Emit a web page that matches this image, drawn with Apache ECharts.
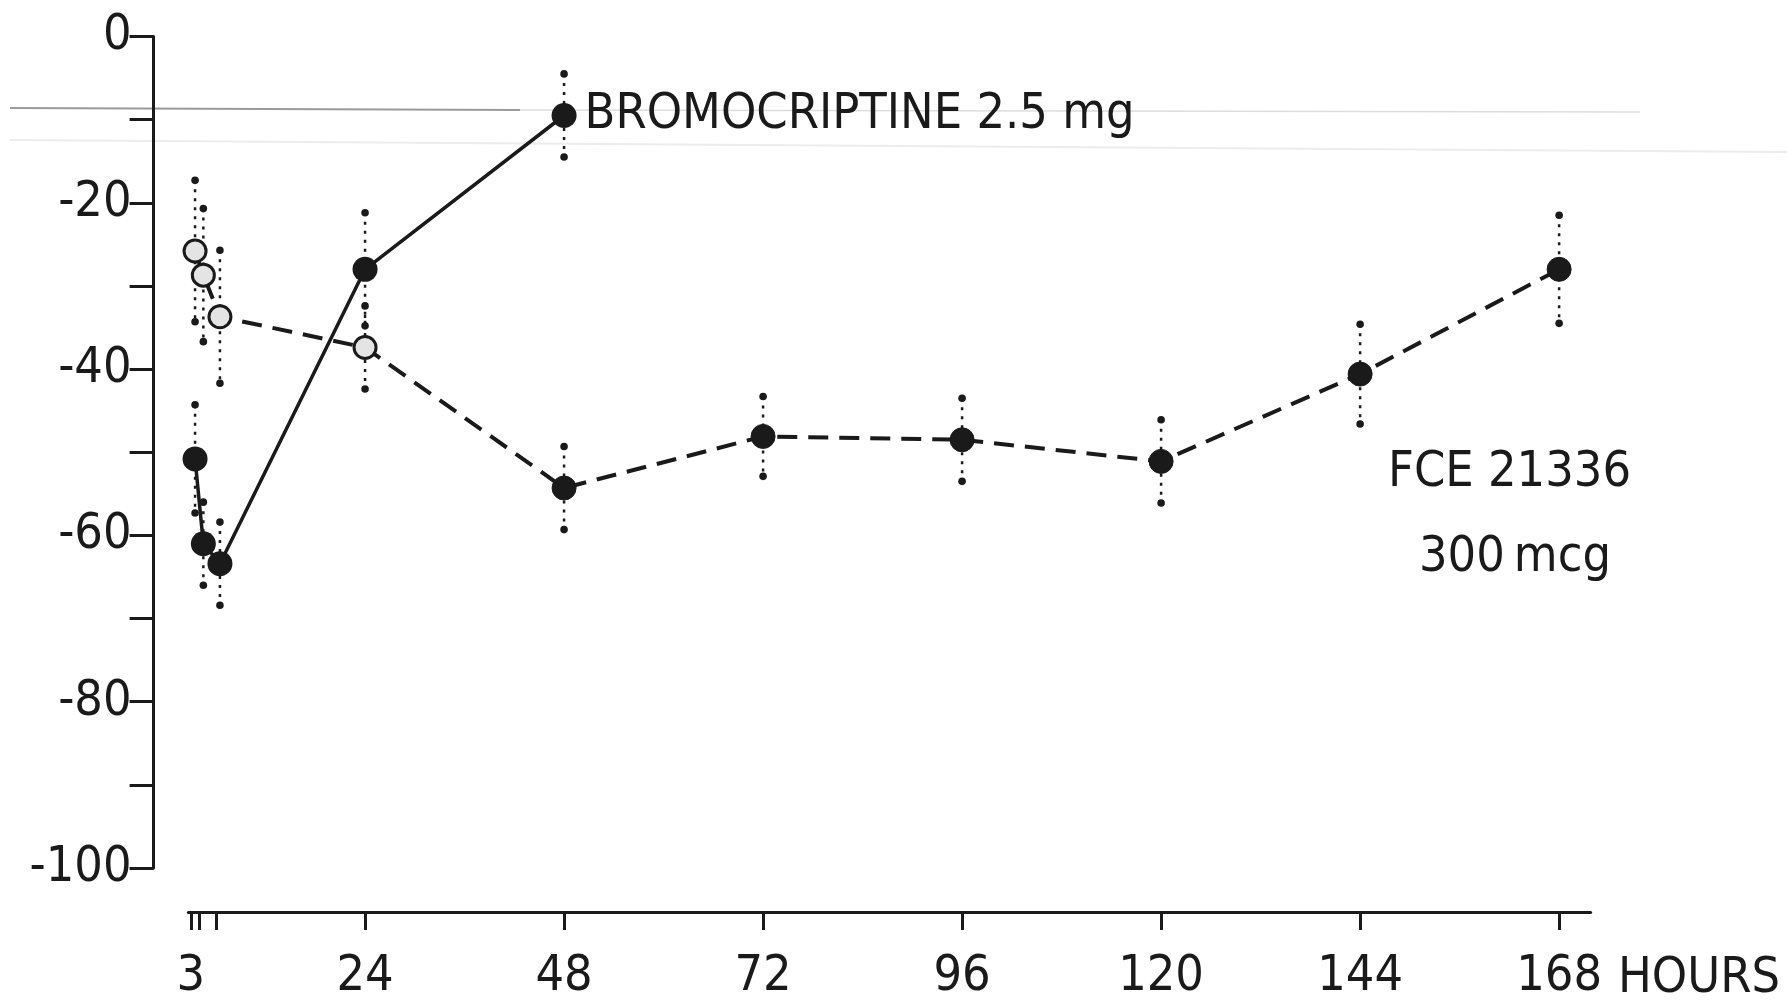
<!DOCTYPE html>
<html>
<head>
<meta charset="utf-8">
<script src="https://cdn.jsdelivr.net/npm/echarts@6/dist/echarts.min.js"></script>
<style>
  html, body { margin: 0; padding: 0; background: #fff; }
  #chart { width: 1787px; height: 1002px; }
</style>
</head>
<body>
<div id="chart"></div>
<script>
// Time points (hours after dosing)
var bromoHours = [3.5, 4.5, 6.5, 24, 48];
var fceHours = [3.5, 4.5, 6.5, 24, 48, 72, 96, 120, 144, 168];

// Mean percent change and error half-widths
var bromoValues = [-50.8, -61.0, -63.4, -28.0, -9.5];
var bromoErr = [6.5, 5.0, 5.0, 6.8, 5.0];
var fceValues = [-25.8, -28.7, -33.7, -37.4, -54.3, -48.1, -48.5, -51.1, -40.6, -28.0];
var fceErr = [8.5, 8.0, 8.0, 5.0, 5.0, 4.8, 5.0, 5.0, 6.0, 6.5];
// Open markers for the early FCE readings, filled afterwards
var fceOpen = [true, true, true, true, false, false, false, false, false, false];

var xTickValues = [3, 4, 6, 24, 48, 72, 96, 120, 144, 168];
var xLabelValues = [3, 24, 48, 72, 96, 120, 144, 168];
var yTicks = [0, -20, -40, -60, -80, -100];

var FONT = "'Liberation Sans Narrow', 'DejaVu Sans Condensed', 'Roboto Condensed', 'Liberation Sans', sans-serif";
var INK = '#1a1a1a';

function pairs(xs, ys) {
  return xs.map(function (x, i) { return [x, ys[i]]; });
}
function errRows(xs, ys, es) {
  return xs.map(function (x, i) { return [x, ys[i] - es[i], ys[i] + es[i]]; });
}

// Dotted vertical error bar with dot caps
function renderErr(params, api) {
  var x = api.value(0);
  var lo = api.coord([x, api.value(1)]);
  var hi = api.coord([x, api.value(2)]);
  return {
    type: 'group',
    children: [
      { type: 'line', shape: { x1: hi[0], y1: hi[1], x2: lo[0], y2: lo[1] },
        style: { stroke: INK, lineWidth: 2.5, lineDash: [3, 6] } },
      { type: 'circle', shape: { cx: hi[0], cy: hi[1], r: 3.8 }, style: { fill: INK } },
      { type: 'circle', shape: { cx: lo[0], cy: lo[1], r: 3.8 }, style: { fill: INK } }
    ]
  };
}

var fceData = fceHours.map(function (h, i) {
  return {
    value: [h, fceValues[i]],
    symbolSize: fceOpen[i] ? 22 : 24,
    itemStyle: fceOpen[i]
      ? { color: '#e4e4e4', borderColor: INK, borderWidth: 3 }
      : { color: INK, borderColor: INK, borderWidth: 1 }
  };
});

var bromoData = pairs(bromoHours, bromoValues).map(function (p, i, arr) {
  var d = { value: p };
  if (i === arr.length - 1) {
    d.label = {
      show: true, position: 'right', distance: 8,
      formatter: 'BROMOCRIPTINE 2.5 mg',
      fontFamily: FONT, fontSize: 50, color: INK
    };
  }
  return d;
});

var chart = echarts.init(document.getElementById('chart'), null, { renderer: 'canvas' });

chart.setOption({
  animation: false,
  backgroundColor: '#fff',
  grid: [
    { left: 153.6, width: 1438.7, top: 36.5, height: 831.5, containLabel: false },
    { left: 188.4, width: 1402.2, top: 900, height: 12, containLabel: false }
  ],
  xAxis: [
    { gridIndex: 0, type: 'value', min: -1.5, max: 172, show: false },
    {
      gridIndex: 1, type: 'value', min: 2.7, max: 171.8, position: 'bottom',
      axisLine: { show: true, lineStyle: { color: INK, width: 3 } },
      axisTick: { show: true, inside: false, length: 18, lineStyle: { color: INK, width: 3 },
        customValues: xTickValues },
      axisLabel: { show: true, margin: 40, fontFamily: FONT, fontSize: 50, color: INK,
        customValues: xLabelValues },
      splitLine: { show: false }
    }
  ],
  yAxis: [
    {
      gridIndex: 0, type: 'value', min: -100, max: 0, interval: 20,
      axisLine: { show: true, onZero: false, lineStyle: { color: INK, width: 3 } },
      axisTick: { show: true, inside: false, length: 24, lineStyle: { color: INK, width: 3 } },
      minorTick: { show: true, splitNumber: 2, length: 24, lineStyle: { color: INK, width: 3 } },
      axisLabel: { show: true, margin: 22, fontFamily: FONT, fontSize: 50, color: INK,
        customValues: yTicks },
      splitLine: { show: false }
    },
    { gridIndex: 1, type: 'value', show: false }
  ],
  series: [
    {
      name: 'FCE error', type: 'custom', xAxisIndex: 0, yAxisIndex: 0,
      renderItem: renderErr, data: errRows(fceHours, fceValues, fceErr), z: 1
    },
    {
      name: 'Bromocriptine error', type: 'custom', xAxisIndex: 0, yAxisIndex: 0,
      renderItem: renderErr, data: errRows(bromoHours, bromoValues, bromoErr), z: 1
    },
    {
      name: 'FCE 21336 300 mcg', type: 'line', xAxisIndex: 0, yAxisIndex: 0,
      data: fceData, symbol: 'circle',
      lineStyle: { color: INK, width: 4, type: [20, 11] },
      z: 3
    },
    {
      name: 'Bromocriptine 2.5 mg', type: 'line', xAxisIndex: 0, yAxisIndex: 0,
      data: bromoData, symbol: 'circle', symbolSize: 25,
      itemStyle: { color: INK },
      lineStyle: { color: INK, width: 3.5 },
      z: 4
    }
  ],
  graphic: [
    // faint scan streaks across the top of the sheet
    { type: 'line', shape: { x1: 10, y1: 108, x2: 520, y2: 110 }, style: { stroke: '#9a9a9a', lineWidth: 2 }, silent: true, z: 0 },
    { type: 'line', shape: { x1: 520, y1: 110, x2: 1640, y2: 112 }, style: { stroke: '#dddddd', lineWidth: 1.5 }, silent: true, z: 0 },
    { type: 'line', shape: { x1: 10, y1: 140, x2: 1787, y2: 152 }, style: { stroke: '#ececec', lineWidth: 2 }, silent: true, z: 0 },
    { type: 'text', left: 1388, top: 448, style: { text: 'FCE 21336', fontFamily: FONT, fontSize: 50, fill: INK } },
    { type: 'text', left: 1419, top: 533, style: { text: '300\u2009mcg', fontFamily: FONT, fontSize: 50, fill: INK } },
    { type: 'text', left: 1618, top: 954, style: { text: 'HOURS', fontFamily: FONT, fontSize: 50, fill: INK } }
  ]
});
</script>
</body>
</html>
